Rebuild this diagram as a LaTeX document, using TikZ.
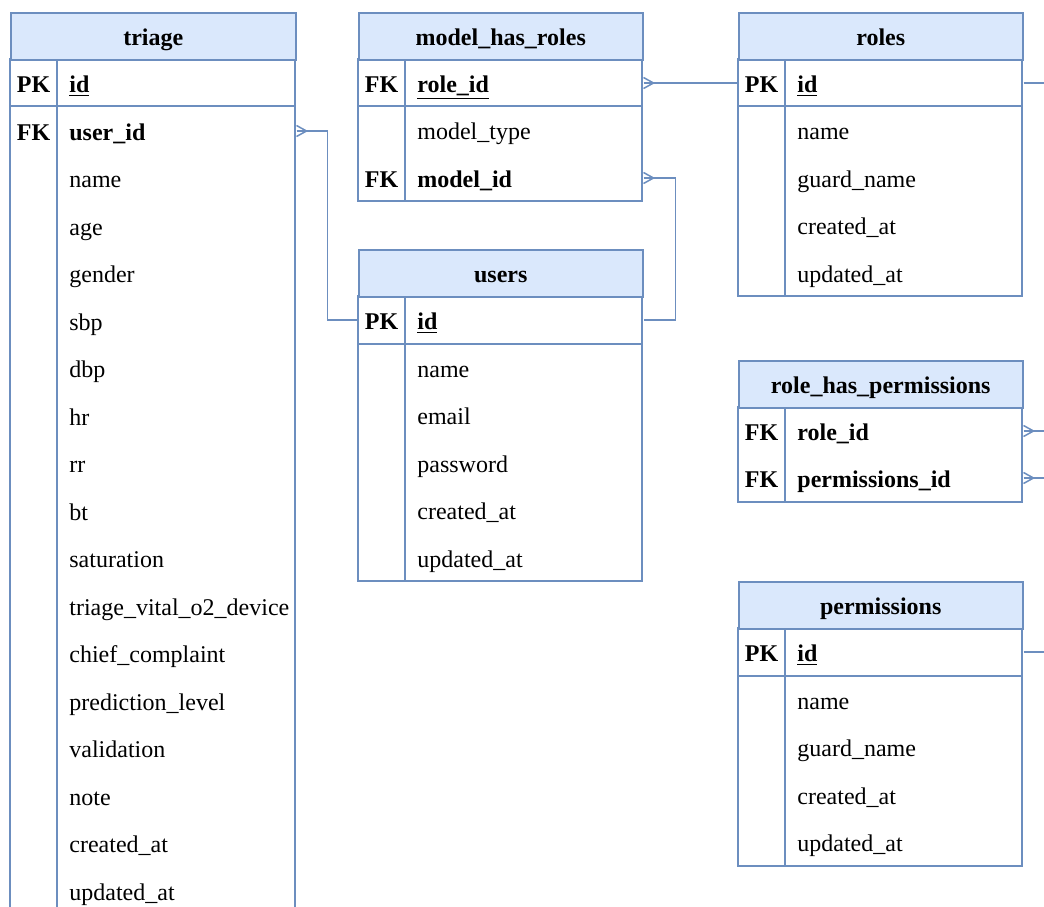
\documentclass[tikz,border=0pt]{standalone}
\usepackage{fontspec}
\setmainfont{Liberation Serif}
\definecolor{erblue}{HTML}{6C8EBF}
\definecolor{hdrfill}{HTML}{DAE8FC}
\tikzset{
 erline/.style={draw=erblue, line width=0.75pt},
 hdr/.style={erline, fill=hdrfill, anchor=north west, inner sep=0pt, minimum height=23.5pt, minimum width=142.5pt, font=\fontsize{12}{14}\selectfont\bfseries, text height=9pt, text depth=0pt},
 keyt/.style={anchor=center, inner sep=0pt, font=\fontsize{12}{14}\selectfont\bfseries, text height=9pt, text depth=0pt},
 fld/.style={anchor=west, inner sep=0pt, font=\fontsize{12}{14}\selectfont, text height=9pt, text depth=0pt},
 fkf/.style={fld, font=\fontsize{12}{14}\selectfont\bfseries},
 rel/.style={erline, line join=miter},
}
\newcommand\crowfoot[1]{\draw[erline] (#1) ++(0,-5.5) -- ++(10,5.5) -- ++(-10,5.5);}
\begin{document}
\begin{tikzpicture}[x=0.5pt,y=-0.5pt]
\useasboundingbox (0,0) rectangle (1044,906);

% ---------- triage ----------
\draw[erline] (10,59) rectangle (295,940);
\draw[erline] (57,59) -- (57,940);
\draw[erline] (10,106) -- (295,106);
\node[hdr] (triage) at (10,12) {triage};
\node[keyt] (triage-pk) at (33.5,83) {PK};
\node[fkf] (triage-id) at (69,83) {\underline{id}};
\node[keyt] (triage-fk) at (33.5,131) {FK};
\node[fkf] (triage-userid) at (69,131) {user\_id};
\foreach \t [count=\i] in {name,age,gender,sbp,dbp,hr,rr,bt,saturation,triage\_vital\_o2\_device,chief\_complaint,prediction\_level,validation,note,created\_at,updated\_at}
  \node[fld] (triage-f\i) at (69,{131+47.5*\i}) {\t};

% ---------- model_has_roles ----------
\draw[erline] (358,59) rectangle (642,201);
\draw[erline] (405,59) -- (405,201);
\draw[erline] (358,106) -- (642,106);
\node[hdr, minimum width=142pt] (mhr) at (358,12) {model\_has\_roles};
\node[keyt] (mhr-fk1) at (381.5,83) {FK};
\node[fkf] (mhr-roleid) at (417,83) {\underline{role\_id}};
\node[fld] (mhr-type) at (417,130.5) {model\_type};
\node[keyt] (mhr-fk2) at (381.5,178) {FK};
\node[fkf] (mhr-modelid) at (417,178) {model\_id};

% ---------- users ----------
\draw[erline] (358,296) rectangle (642,581);
\draw[erline] (405,296) -- (405,581);
\draw[erline] (358,344) -- (642,344);
\node[hdr, minimum width=142pt] (users) at (358,249) {users};
\node[keyt] (users-pk) at (381.5,320) {PK};
\node[fkf] (users-id) at (417,320) {\underline{id}};
\foreach \t [count=\i] in {name,email,password,created\_at,updated\_at}
  \node[fld] (users-f\i) at (417,{320.5+47.5*\i}) {\t};

% ---------- roles ----------
\draw[erline] (738,59) rectangle (1022,296);
\draw[erline] (785,59) -- (785,296);
\draw[erline] (738,106) -- (1022,106);
\node[hdr, minimum width=142pt] (roles) at (738,12) {roles};
\node[keyt] (roles-pk) at (761.5,83) {PK};
\node[fkf] (roles-id) at (797,83) {\underline{id}};
\foreach \t [count=\i] in {name,guard\_name,created\_at,updated\_at}
  \node[fld] (roles-f\i) at (797,{83+47.5*\i}) {\t};

% ---------- role_has_permissions ----------
\draw[erline] (738,407) rectangle (1022,502);
\draw[erline] (785,407) -- (785,502);
\node[hdr, minimum width=142pt] (rhp) at (738,360) {role\_has\_permissions};
\node[keyt] (rhp-fk1) at (761.5,431) {FK};
\node[fkf] (rhp-roleid) at (797,431) {role\_id};
\node[keyt] (rhp-fk2) at (761.5,478) {FK};
\node[fkf] (rhp-permid) at (797,478) {permissions\_id};

% ---------- permissions ----------
\draw[erline] (738,628) rectangle (1022,866);
\draw[erline] (785,628) -- (785,866);
\draw[erline] (738,676) -- (1022,676);
\node[hdr, minimum width=142pt] (perms) at (738,581) {permissions};
\node[keyt] (perms-pk) at (761.5,652) {PK};
\node[fkf] (perms-id) at (797,652) {\underline{id}};
\foreach \t [count=\i] in {name,guard\_name,created\_at,updated\_at}
  \node[fld] (perms-f\i) at (797,{652.5+47.5*\i}) {\t};

% ---------- connectors ----------
\coordinate (c1) at (triage.east |- triage-userid);
\coordinate (c2) at (mhr.east |- mhr-roleid);
\coordinate (c3) at (mhr.east |- mhr-modelid);
\coordinate (c4) at (rhp.east |- rhp-roleid);
\coordinate (c5) at (rhp.east |- rhp-permid);
\coordinate (e1) at (1050,0 |- roles-id);
\coordinate (e2) at (1050,0 |- rhp-roleid);
\coordinate (e3) at (1050,0 |- rhp-permid);
\coordinate (e4) at (1050,0 |- perms-id);

\draw[rel] (c1) -- ++(31,0) |- (users.west |- users-id);
\crowfoot{c1}
\draw[rel] (c2) -- (roles.west |- roles-id);
\crowfoot{c2}
\draw[rel] (c3) -- ++(32,0) |- (users.east |- users-id);
\crowfoot{c3}
\draw[rel] (roles.east |- roles-id) -- (e1);
\draw[rel] (c4) -- (e2);
\crowfoot{c4}
\draw[rel] (c5) -- (e3);
\crowfoot{c5}
\draw[rel] (perms.east |- perms-id) -- (e4);
\end{tikzpicture}
\end{document}
